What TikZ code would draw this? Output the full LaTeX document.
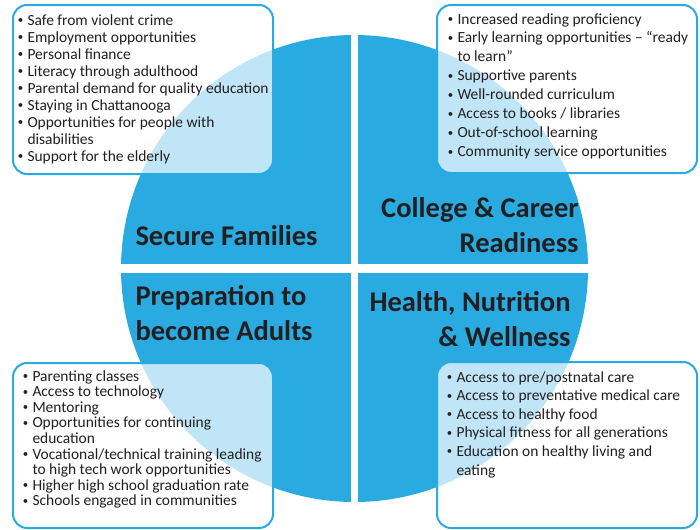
\documentclass[tikz,border=0pt]{standalone}
\usepackage{fontspec}
\usepackage{graphicx}
\setmainfont{Carlito}
\definecolor{goalblue}{RGB}{41,171,226}
\definecolor{goalink}{RGB}{35,31,32}
\newcommand{\bl}{\makebox[7.5pt][l]{\hspace{0.3pt}\raisebox{1.1pt}{\scalebox{0.7}{\textbullet}}}}
\newcommand{\goallist}[1]{\begin{tabular}[t]{@{}l@{}l@{}}#1\end{tabular}}
\newcommand{\goaltitle}[2]{\begin{tabular}[t]{@{}#1@{}}#2\end{tabular}}

\tikzset{every picture/.style={line width=0.75pt}}
\tikzset{
	goalbox/.style={draw=goalblue, line width=1.5, rounded corners=10.5pt, fill=white, fill opacity=0.7},
	itemtext/.style={anchor=base west, inner sep=0pt, text=goalink},
	titletext/.style={inner sep=0pt, text=goalink, font={\fontsize{21.4}{26.25}\selectfont\bfseries}}
}

\begin{document}
\begin{tikzpicture}[x=0.75pt,y=0.75pt,yscale=-1,xscale=1]
		\useasboundingbox (0,0) rectangle (700,529);
		
		%Shape: Circle, four quarters
		\begin{scope}
			\clip (354.5,268.5) circle (233.5);
			\fill [goalblue] (100,20) rectangle (351,264);
			\fill [goalblue] (358,20) rectangle (610,264);
			\fill [goalblue] (100,272.5) rectangle (351,520);
			\fill [goalblue] (358,272.5) rectangle (610,520);
		\end{scope}
		
		% Text Node
		\draw (135,245) node (secure) [titletext, anchor=base west] {Secure Families};
		% Text Node
		\draw (579,217) node (college) [titletext, anchor=base east] {\goaltitle{r}{College \& Career\\Readiness}};
		% Text Node
		\draw (135,305) node (prepare) [titletext, anchor=base west] {\goaltitle{l}{Preparation to\\become Adults}};
		% Text Node
		\draw (571,311) node (health) [titletext, anchor=base east] {\goaltitle{r}{Health, Nutrition\\\& Wellness}};
		
		%Shape: Rectangle
		\draw [goalbox] (13,5) rectangle (273,174);
		%Shape: Rectangle
		\draw [goalbox] (437,5) rectangle (697,173);
		%Shape: Rectangle
		\draw [goalbox] (13,363) rectangle (273,528);
		%Shape: Rectangle
		\draw [goalbox] (437,362) rectangle (697,528);
		
		% Text Node
		\draw (17,25) node (securelist) [itemtext, font={\fontsize{11.6}{12.75}\selectfont}] {\goallist{
				\bl & Safe from violent crime\\
				\bl & Employment opportunities\\
				\bl & Personal finance\\
				\bl & Literacy through adulthood\\
				\bl & Parental demand for quality education\\
				\bl & Staying in Chattanooga\\
				\bl & Opportunities for people with\\
				& disabilities\\
				\bl & Support for the elderly}};
		% Text Node
		\draw (447,24) node (collegelist) [itemtext, font={\fontsize{11.6}{14.2}\selectfont}] {\goallist{
				\bl & Increased reading proficiency\\
				\bl & Early learning opportunities – “ready\\
				& to learn”\\
				\bl & Supportive parents\\
				\bl & Well-rounded curriculum\\
				\bl & Access to books / libraries\\
				\bl & Out-of-school learning\\
				\bl & Community service opportunities}};
		% Text Node
		\draw (22,381) node (preparelist) [itemtext, font={\fontsize{11.6}{11.7}\selectfont}] {\goallist{
				\bl & Parenting classes\\
				\bl & Access to technology\\
				\bl & Mentoring\\
				\bl & Opportunities for continuing\\
				& education\\
				\bl & Vocational/technical training leading\\
				& to high tech work opportunities\\
				\bl & Higher high school graduation rate\\
				\bl & Schools engaged in communities}};
		% Text Node
		\draw (446,382) node (healthlist) [itemtext, font={\fontsize{11.6}{13.95}\selectfont}] {\goallist{
				\bl & Access to pre/postnatal care\\
				\bl & Access to preventative medical care\\
				\bl & Access to healthy food\\
				\bl & Physical fitness for all generations\\
				\bl & Education on healthy living and\\
				& eating}};
		
	\end{tikzpicture}
\end{document}
